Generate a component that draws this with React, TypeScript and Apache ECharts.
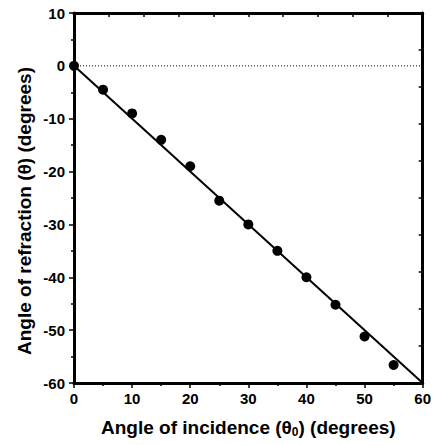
import React, { useEffect, useRef } from "react";
import * as echarts from "echarts";

const incidence = [0, 5, 10, 15, 20, 25, 30, 35, 40, 45, 50, 55];
const refraction = [0, -4.5, -9, -14, -19, -25.5, -30, -35, -40, -45.2, -51.2, -56.6];
const fitLine = [[0, 0], [60, -60]];
const zeroLine = [[0, 0], [60, 0]];
const xTitle = "Angle of incidence (θ{sub|0}) (degrees)";
const yTitle = "Angle of refraction (θ) (degrees)";

const FONT = "'Liberation Sans', Arial, sans-serif";

export default function App() {
  const ref = useRef<HTMLDivElement>(null);
  useEffect(() => {
    const chart = echarts.init(ref.current!, null, { renderer: "svg" });
    const mkLine = () => ({ show: true, onZero: false, lineStyle: { color: "#000", width: 3, opacity: 1 } });
    const tickStyle = { color: "#000", width: 1.5, opacity: 1 };
    chart.setOption({
      animation: false,
      backgroundColor: "#fff",
      grid: { left: 74, right: 11, top: 13, bottom: 62, containLabel: false },
      graphic: [
        {
          type: "text",
          x: 24,
          y: 211,
          rotation: Math.PI / 2,
          style: {
            text: yTitle,
            fill: "#000",
            font: `bold 19px ${FONT}`,
            align: "center",
            verticalAlign: "middle",
          },
        },
      ],
      xAxis: [
        {
          type: "value",
          position: "bottom",
          min: 0,
          max: 60,
          interval: 10,
          axisLine: mkLine(),
          axisTick: { show: true, inside: false, length: 5, lineStyle: tickStyle },
          minorTick: { show: true, splitNumber: 2, length: 3, lineStyle: tickStyle },
          splitLine: { show: false },
          axisLabel: { color: "#000", fontFamily: FONT, fontWeight: "bold", fontSize: 15, margin: 8 },
          name: xTitle,
          nameLocation: "middle",
          nameGap: 33,
          nameTextStyle: {
            color: "#000",
            fontFamily: FONT,
            fontWeight: "bold",
            fontSize: 19,
            rich: {
              sub: { fontFamily: FONT, fontWeight: "bold", fontSize: 12, color: "#000", verticalAlign: "bottom", padding: [10, 0, 0, 0] },
            },
          },
        },
        {
          type: "value",
          position: "top",
          min: 0,
          max: 60,
          interval: 6,
          axisLine: mkLine(),
          axisTick: { show: true, inside: true, length: 4, lineStyle: tickStyle },
          axisLabel: { show: false },
          splitLine: { show: false },
        },
      ],
      yAxis: [
        {
          type: "value",
          position: "left",
          min: -60,
          max: 10,
          interval: 10,
          axisLine: mkLine(),
          axisTick: { show: true, inside: false, length: 5, lineStyle: tickStyle },
          minorTick: { show: true, splitNumber: 2, length: 3, lineStyle: tickStyle },
          splitLine: { show: false },
          axisLabel: { color: "#000", fontFamily: FONT, fontWeight: "bold", fontSize: 15, margin: 9 },
        },
        {
          type: "value",
          position: "right",
          min: -60,
          max: 10,
          interval: 7,
          axisLine: mkLine(),
          axisTick: { show: true, inside: true, length: 4, lineStyle: tickStyle },
          axisLabel: { show: false },
          splitLine: { show: false },
        },
      ],
      series: [
        {
          type: "line",
          data: zeroLine,
          symbol: "none",
          lineStyle: { color: "#000", width: 1, type: [1, 2] },
          silent: true,
        },
        {
          type: "line",
          data: fitLine,
          symbol: "none",
          lineStyle: { color: "#000", width: 2 },
          silent: true,
        },
        {
          type: "scatter",
          data: incidence.map((x, i) => [x, refraction[i]]),
          symbol: "circle",
          symbolSize: 10,
          itemStyle: { color: "#000", opacity: 1 },
        },
      ],
    });
    return () => chart.dispose();
  }, []);
  return <div ref={ref} style={{ width: 434, height: 445, position: "absolute", left: 0, top: 0 }} />;
}
